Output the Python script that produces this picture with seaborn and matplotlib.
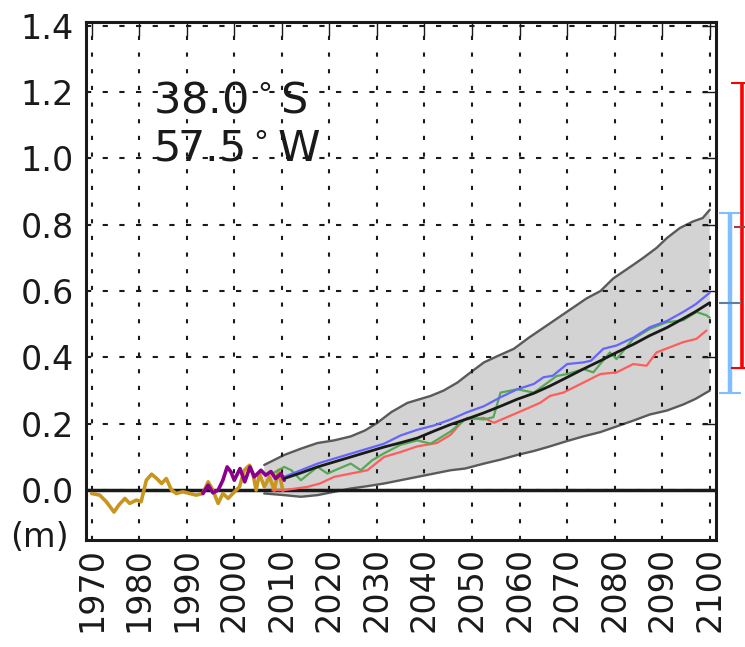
import numpy as np
import seaborn as sns
import matplotlib.pyplot as plt
import matplotlib.transforms as mtransforms

# tide gauge record (gold)
tg_years = [1970.0, 1971.7, 1973.1, 1974.7, 1975.7, 1977.0, 1978.0, 1979.4, 1980.4, 1981.5,
            1982.6, 1983.7, 1984.7, 1985.7, 1986.8, 1987.8, 1989.2, 1990.6, 1992.0, 1993.4,
            1994.5, 1995.5, 1996.6, 1997.6, 1998.7, 1999.7, 2001.1, 2002.1, 2003.2, 2003.9,
            2004.6, 2005.3, 2006.3, 2007.4, 2008.4, 2009.3, 2010.2]
tg_vals = [-0.01, -0.015, -0.035, -0.066, -0.045, -0.025, -0.04, -0.03, -0.035, 0.03,
           0.048, 0.035, 0.02, 0.035, 0.0, -0.01, -0.005, -0.01, -0.015, -0.01,
           0.025, 0.0, -0.04, -0.01, -0.025, -0.01, 0.01, 0.06, 0.075, 0.05,
           0.0, 0.05, 0.01, 0.04, 0.0, 0.06, 0.0]

# altimetry record (purple)
alt_years = [1993.4, 1994.5, 1995.5, 1996.6, 1997.6, 1998.5, 1999.3, 2000.0, 2001.2, 2002.2,
             2003.3, 2004.2, 2005.6, 2006.6, 2007.7, 2008.7, 2009.8, 2010.5]
alt_vals = [-0.01, 0.015, -0.008, 0.0, 0.03, 0.07, 0.055, 0.03, 0.065, 0.025,
            0.07, 0.04, 0.06, 0.045, 0.056, 0.035, 0.05, 0.03]

# model spread (grey band)
up_years = [2006.3, 2010.5, 2014.0, 2017.5, 2021.0, 2024.5, 2027.5, 2030.1, 2033.0, 2036.4,
            2041.3, 2044.0, 2046.9, 2049.7, 2052.5, 2055.5, 2058.8, 2062.0, 2065.7, 2069.9,
            2074.1, 2077.0, 2079.7, 2083.9, 2086.0, 2088.8, 2091.0, 2093.7, 2096.5, 2098.5, 2100.0]
up_vals = [0.076, 0.106, 0.125, 0.142, 0.150, 0.162, 0.180, 0.203, 0.235, 0.263,
           0.284, 0.300, 0.324, 0.355, 0.385, 0.405, 0.426, 0.460, 0.496, 0.537,
           0.578, 0.600, 0.638, 0.679, 0.700, 0.730, 0.760, 0.790, 0.810, 0.820, 0.845]
lo_years = [2006.3, 2010.5, 2014.0, 2017.5, 2021.0, 2024.5, 2028.0, 2031.5, 2035.0, 2038.5,
            2042.0, 2045.5, 2048.5, 2052.5, 2056.0, 2059.5, 2063.0, 2066.4, 2070.0, 2073.4,
            2077.0, 2080.4, 2084.0, 2087.4, 2091.0, 2094.4, 2097.0, 2100.0]
lo_vals = [-0.01, -0.015, -0.02, -0.015, -0.005, 0.005, 0.012, 0.02, 0.03, 0.04,
           0.05, 0.06, 0.065, 0.08, 0.092, 0.106, 0.118, 0.132, 0.148, 0.162,
           0.175, 0.192, 0.21, 0.228, 0.24, 0.258, 0.275, 0.30]

# ensemble mean (black)
mean_years = [2010.5, 2014.0, 2017.5, 2021.0, 2024.5, 2028.0, 2031.5, 2035.0, 2038.5, 2042.0,
              2045.5, 2049.0, 2052.5, 2056.0, 2059.5, 2063.0, 2066.4, 2070.0, 2073.4, 2077.0,
              2080.4, 2084.0, 2087.4, 2091.0, 2094.4, 2097.0, 2100.0]
mean_vals = [0.035, 0.052, 0.07, 0.085, 0.10, 0.115, 0.13, 0.143, 0.157, 0.178,
             0.198, 0.215, 0.233, 0.253, 0.274, 0.292, 0.314, 0.34, 0.365, 0.39,
             0.415, 0.44, 0.466, 0.49, 0.517, 0.538, 0.565]

# scenario runs
blue_years = [2010.5, 2014.0, 2017.5, 2021.0, 2024.5, 2028.0, 2031.5, 2035.0, 2038.5, 2042.0,
              2045.5, 2049.0, 2052.5, 2056.0, 2059.5, 2063.0, 2065.0, 2067.0, 2070.0, 2073.4,
              2075.0, 2077.6, 2080.4, 2084.0, 2087.4, 2091.0, 2094.4, 2097.0, 2100.0]
blue_vals = [0.04, 0.06, 0.08, 0.095, 0.11, 0.125, 0.14, 0.165, 0.182, 0.195,
             0.213, 0.235, 0.253, 0.28, 0.304, 0.32, 0.34, 0.345, 0.38, 0.385,
             0.39, 0.426, 0.436, 0.46, 0.491, 0.51, 0.537, 0.56, 0.595]
green_years = [2008.0, 2010.5, 2012.0, 2014.0, 2017.5, 2019.6, 2022.0, 2024.5, 2026.6, 2029.0,
               2031.5, 2035.0, 2038.5, 2041.3, 2045.5, 2049.0, 2052.5, 2054.5, 2056.0, 2059.5,
               2063.0, 2065.5, 2067.8, 2070.0, 2073.4, 2075.5, 2079.0, 2080.4, 2083.9, 2087.4,
               2090.9, 2094.4, 2097.2, 2099.3, 2100.0]
green_vals = [0.05, 0.07, 0.06, 0.03, 0.07, 0.05, 0.065, 0.08, 0.06, 0.09,
              0.111, 0.137, 0.15, 0.14, 0.177, 0.218, 0.213, 0.22, 0.294, 0.304,
              0.294, 0.32, 0.344, 0.35, 0.365, 0.355, 0.415, 0.395, 0.456, 0.486,
              0.506, 0.512, 0.537, 0.527, 0.52]
red_years = [2008.0, 2010.5, 2015.4, 2018.0, 2021.0, 2024.5, 2028.0, 2031.5, 2035.0, 2038.5,
             2042.6, 2045.5, 2048.3, 2052.5, 2054.6, 2059.5, 2064.3, 2066.4, 2069.2, 2073.4,
             2077.0, 2080.4, 2083.9, 2086.7, 2088.8, 2091.5, 2094.4, 2097.2, 2099.3]
red_vals = [0.0, 0.0, 0.01, 0.02, 0.04, 0.05, 0.06, 0.10, 0.115, 0.132,
            0.142, 0.167, 0.213, 0.218, 0.203, 0.233, 0.263, 0.284, 0.294, 0.324,
            0.35, 0.355, 0.38, 0.375, 0.415, 0.43, 0.446, 0.456, 0.481]

# ranges at 2100 (right side bars): low, central, high
blue_bar = [0.292, 0.563, 0.834]
red_bar = [0.368, 0.794, 1.226]

xticks = list(range(1970, 2101, 10))
yticks = [0.0, 0.2, 0.4, 0.6, 0.8, 1.0, 1.2, 1.4]

sns.set_theme(style='white')
plt.rcParams['font.family'] = ['DejaVu Sans']
plt.rcParams['text.color'] = 'k'

fig, ax = plt.subplots(figsize=(7.45, 6.47), dpi=100)
fig.subplots_adjust(left=0.116, right=0.961, bottom=0.165, top=0.966)

ax.fill(up_years + lo_years[::-1], up_vals + lo_vals[::-1],
        facecolor='#d3d3d3', edgecolor='none', zorder=1)
sns.lineplot(x=up_years, y=up_vals, color='#5a5a5a', lw=1.7, ax=ax, zorder=2)
sns.lineplot(x=lo_years, y=lo_vals, color='#5a5a5a', lw=1.7, ax=ax, zorder=2)

ax.axhline(0, color='k', lw=2.5, zorder=3)

sns.lineplot(x=tg_years, y=tg_vals, color='#c8961e', lw=2.6, ax=ax, zorder=4)
sns.lineplot(x=alt_years, y=alt_vals, color='#8b008b', lw=2.6, ax=ax, zorder=5)

sns.lineplot(x=red_years, y=red_vals, color='#ff5c5c', lw=1.6, ax=ax, zorder=4)
sns.lineplot(x=green_years, y=green_vals, color='#55a855', lw=1.6, ax=ax, zorder=4)
sns.lineplot(x=blue_years, y=blue_vals, color='#6464ff', lw=1.6, ax=ax, zorder=4)
sns.lineplot(x=mean_years, y=mean_vals, color='k', lw=2.0, ax=ax, zorder=6)

ax.errorbar([2104.2], [blue_bar[1]], yerr=[[blue_bar[1] - blue_bar[0]], [blue_bar[2] - blue_bar[1]]],
            fmt='_', color='#5f7f9f', ecolor='#80bfff', elinewidth=3.2, capsize=8, capthick=2.2,
            markersize=16, mew=1.5, clip_on=False, zorder=7)
ax.errorbar([2106.7], [red_bar[1]], yerr=[[red_bar[1] - red_bar[0]], [red_bar[2] - red_bar[1]]],
            fmt='_', color='#a04040', ecolor='#ff0000', elinewidth=2.6, capsize=8, capthick=2.2,
            markersize=12, mew=1.5, clip_on=False, zorder=7)

ax.set_xlim(1968.9, 2101.3)
ax.set_ylim(-0.151, 1.411)
ax.set_xticks(xticks)
ax.set_xticklabels([str(t) for t in xticks], rotation=90)
ax.set_yticks(yticks)
ax.set_yticklabels(['%.1f' % t for t in yticks])

ax.xaxis.grid(True, color='k', linestyle=(0, (2, 6)), lw=1.5)
ax.yaxis.grid(True, color='k', linestyle=(0, (2.5, 5.5)), lw=1.5)
ax.set_axisbelow(False)
for s in ax.spines.values():
    s.set_color('k')
    s.set_linewidth(2.2)
ax.tick_params(direction='in', length=10, width=1, top=True, right=True,
               labelsize=24, colors='k')
ax.tick_params(axis='y', pad=9)
ax.tick_params(axis='x', pad=5)

trans = mtransforms.blended_transform_factory(ax.transAxes, ax.transData)
ax.text(-0.074, -0.142, '(m)', transform=trans, ha='center', va='center', fontsize=24, color='k')
ax.text(0.105, 1.137, r'38.0$^\circ$S', transform=trans, ha='left', va='baseline', fontsize=31, color='k')
ax.text(0.105, 0.995, r'57.5$^\circ$W', transform=trans, ha='left', va='baseline', fontsize=31, color='k')

fig.savefig('out.png', dpi=100)
